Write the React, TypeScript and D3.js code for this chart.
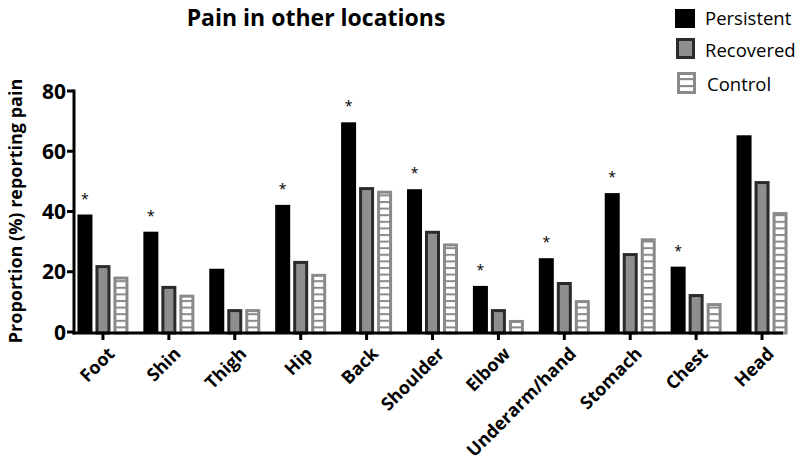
import React from "react";
import * as d3 from "d3";

const categories = ["Foot", "Shin", "Thigh", "Hip", "Back", "Shoulder", "Elbow", "Underarm/hand", "Stomach", "Chest", "Head"];
const persistent = [39, 33.3, 21, 42.2, 69.6, 47.4, 15.3, 24.5, 46.1, 21.7, 65.3];
const recovered = [22.2, 15.3, 7.6, 23.6, 48.1, 33.6, 7.6, 16.6, 26.2, 12.6, 50.1];
const control = [18.4, 12.4, 7.6, 19.3, 46.9, 29.4, 4, 10.6, 31.1, 9.6, 39.8];
const significant = [true, true, false, true, true, true, true, true, true, true, false];
const yTicks = [0, 20, 40, 60, 80];
const seriesNames = ["Persistent", "Recovered", "Control"];

const FONT = "'Open Sans', 'Noto Sans', sans-serif";

export default function App() {
  const W = 800, H = 462;
  const y = d3.scaleLinear().domain([0, 80]).range([332, 91]);
  const x = d3.scaleBand<string>().domain(categories).range([70, 795]);
  const step = x.step();
  const barW = 15;
  const off = 18;
  const axisX = 74;
  const axisY = 333;

  const series = [
    { name: seriesNames[0], values: persistent, dx: -off, fill: "#000", stroke: "#000", sw: 0 },
    { name: seriesNames[1], values: recovered, dx: 0, fill: "#8e8e91", stroke: "#2b2b2b", sw: 3 },
    { name: seriesNames[2], values: control, dx: off, fill: "url(#hatch)", stroke: "#8a8a8a", sw: 3 },
  ];

  return (
    <svg width={W} height={H} style={{ position: "absolute", left: 0, top: 0, background: "#fff" }} fontFamily={FONT}>
      <defs>
        <pattern id="hatch" patternUnits="userSpaceOnUse" width={20} height={6.6} y={axisY}>
          <rect x={0} y={0} width={20} height={6.6} fill="#fff" />
          <rect x={0} y={0} width={20} height={2} fill="#8a8a8a" />
        </pattern>
        <pattern id="hatchLegend" patternUnits="userSpaceOnUse" width={20} height={7} y={78}>
          <rect x={0} y={0} width={20} height={7} fill="#fff" />
          <rect x={0} y={0} width={20} height={2.2} fill="#8a8a8a" />
        </pattern>
      </defs>

      <text x={316} y={26} textAnchor="middle" fontSize={23} fontWeight="bold" fill="#000">Pain in other locations</text>

      {/* bars */}
      {series.map((s) =>
        categories.map((c, i) => {
          const cx = (x(c) as number) + step / 2 + s.dx;
          const top = y(s.values[i]);
          const inset = s.sw / 2;
          return (
            <rect
              key={s.name + c}
              x={cx - barW / 2 + inset}
              y={top + inset}
              width={barW - s.sw}
              height={Math.max(0, axisY - top - inset)}
              fill={s.fill}
              stroke={s.sw ? s.stroke : "none"}
              strokeWidth={s.sw}
            />
          );
        })
      )}

      {/* asterisks */}
      {categories.map((c, i) =>
        significant[i] ? (
          <text key={"ast" + c} x={(x(c) as number) + step / 2 - off} y={y(persistent[i]) - 11} textAnchor="middle" fontSize={14} fill="#000">*</text>
        ) : null
      )}

      {/* y axis */}
      <line x1={axisX} x2={axisX} y1={y(80) - 1.5} y2={axisY + 1.5} stroke="#000" strokeWidth={3} />
      {yTicks.map((t) => (
        <g key={"yt" + t}>
          <line x1={axisX - 7} x2={axisX} y1={y(t)} y2={y(t)} stroke="#000" strokeWidth={3} />
          <text x={axisX - 8} y={y(t)} dy="0.36em" textAnchor="end" fontSize={21} fontWeight="bold" fill="#000">{t}</text>
        </g>
      ))}
      <text transform={`translate(22,211) rotate(-90)`} textAnchor="middle" fontSize={18} fontWeight="bold" fill="#000">Proportion (%) reporting pain</text>

      {/* x axis */}
      <line x1={axisX - 1.5} x2={783} y1={axisY} y2={axisY} stroke="#000" strokeWidth={3} />
      {categories.map((c) => {
        const cx = (x(c) as number) + step / 2;
        return (
          <g key={"xt" + c}>
            <line x1={cx} x2={cx} y1={axisY} y2={axisY + 7} stroke="#000" strokeWidth={3} />
            <text transform={`translate(${cx + 4},${axisY + 13}) rotate(-45)`} textAnchor="end" dy="0.7em" fontSize={18} fontWeight="bold" fill="#000">{c}</text>
          </g>
        );
      })}

      {/* legend */}
      <rect x={675} y={9} width={20} height={19} fill="#000" />
      <text x={705} y={25} fontSize={18.5} fill="#000">Persistent</text>
      <rect x={677.5} y={39.5} width={16} height={18} fill="#8e8e91" stroke="#2b2b2b" strokeWidth={3} />
      <text x={705} y={57} fontSize={18.5} fill="#000">Recovered</text>
      <rect x={678.5} y={73.5} width={16} height={19} fill="url(#hatchLegend)" stroke="#8a8a8a" strokeWidth={3} />
      <text x={707} y={91} fontSize={18.5} fill="#000">Control</text>
    </svg>
  );
}
